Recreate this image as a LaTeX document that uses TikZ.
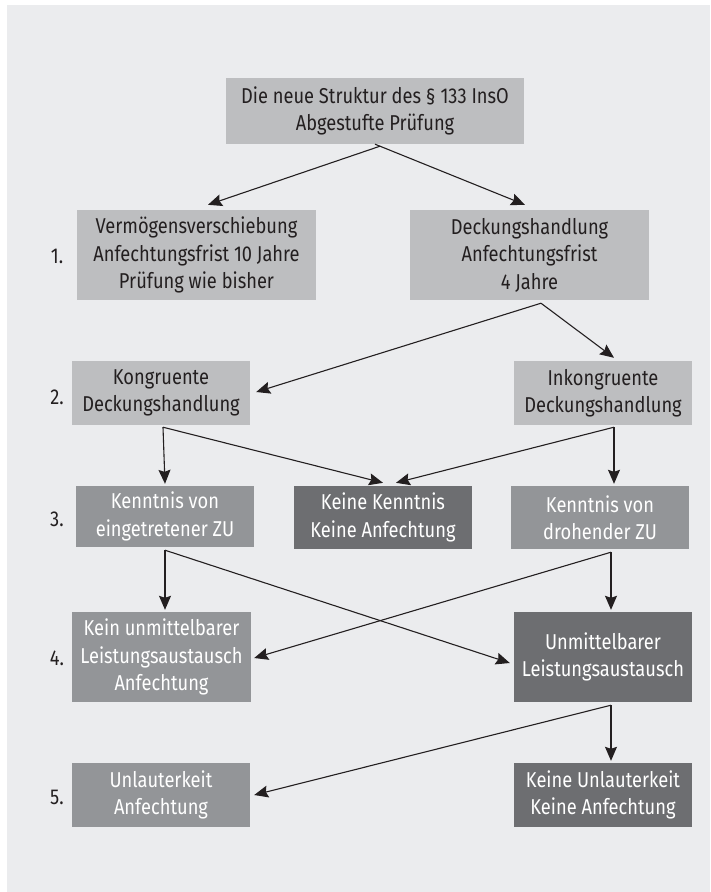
\documentclass[tikz,border=0pt]{standalone}
\usepackage{fontspec}
\setmainfont{Fira Sans}[FakeStretch=0.85]
\usetikzlibrary{arrows.meta,calc}
\definecolor{bgc}{HTML}{EBECEE}
\definecolor{lightc}{HTML}{BDBEC0}
\definecolor{medc}{HTML}{939598}
\definecolor{darkc}{HTML}{6D6E71}
\definecolor{txt}{HTML}{231F20}
\begin{document}
\begin{tikzpicture}[x=1pt,y=-1pt,
  box/.style={inner sep=0pt,align=center,font=\fontsize{21.5}{27.5}\selectfont},
  lbox/.style={box,fill=lightc,text=txt},
  mbox/.style={box,fill=medc,text=white},
  dbox/.style={box,fill=darkc,text=white},
  num/.style={text=txt,font=\fontsize{21.5}{27.5}\selectfont},
  arr/.style={draw=txt,line width=1.1pt,-{Stealth[length=14pt,width=12pt,inset=2pt]}},
  ln/.style={draw=txt,line width=1.1pt}]
\useasboundingbox (0,0) rectangle (710,892);
\fill[bgc] (7,5) rectangle (710,892);
% nodes
\node[lbox,minimum width=298pt,minimum height=66pt] (top) at (375,111) {Die neue Struktur des § 133 InsO\\Abgestufte Prüfung};
\node[lbox,minimum width=239pt,minimum height=90pt] (r1l) at (196.5,255) {Vermögensverschiebung\\Anfechtungsfrist 10 Jahre\\Prüfung wie bisher};
\node[lbox,minimum width=239pt,minimum height=90pt] (r1r) at (529.5,255) {Deckungshandlung\\Anfechtungsfrist\\4 Jahre};
\node[lbox,minimum width=178pt,minimum height=64pt] (r2l) at (161,393) {Kongruente\\Deckungshandlung};
\node[lbox,minimum width=178pt,minimum height=64pt] (r2r) at (603,393) {Inkongruente\\Deckungshandlung};
\node[mbox,minimum width=178pt,minimum height=61pt] (r3l) at (165,516.5) {Kenntnis von\\eingetretener ZU};
\node[dbox,minimum width=178pt,minimum height=63pt] (r3m) at (383,517.5) {Keine Kenntnis\\Keine Anfechtung};
\node[mbox,minimum width=178pt,minimum height=63pt] (r3r) at (600,517.5) {Kenntnis von\\drohender ZU};
\node[mbox,minimum width=179pt,minimum height=90pt] (r4l) at (161.5,657) {Kein unmittelbarer\\Leistungsaustausch\\Anfechtung};
\node[dbox,minimum width=178pt,minimum height=90pt] (r4r) at (603,657) {Unmittelbarer\\Leistungsaustausch};
\node[mbox,minimum width=178pt,minimum height=64pt] (r5l) at (161,795) {Unlauterkeit\\Anfechtung};
\node[dbox,minimum width=178pt,minimum height=64pt] (r5r) at (603,795) {Keine Unlauterkeit\\Keine Anfechtung};
% step numbers
\node[num] (n1) at (57,256) {1.};
\node[num] (n2) at (57,397) {2.};
\node[num] (n3) at (57,519) {3.};
\node[num] (n4) at (57,658) {4.};
\node[num] (n5) at (57,797) {5.};
% split points
\coordinate (ts) at ($(top.south)+(5,2)$);
\coordinate (s1) at ($(r1r.south)+(11.5,3)$);
\coordinate (s2l) at ($(r2l.south)+(2,2)$);
\coordinate (s2r) at ($(r2r.south)+(11,2)$);
\coordinate (s3l) at ($(r3l.south)+(0,3)$);
\coordinate (s3r) at ($(r3r.south)+(11,3)$);
\coordinate (s4r) at ($(r4r.south)+(8,3)$);
% connectors
\draw[ln] (top.south) -- (ts);
\draw[arr] (ts) -- ($(r1l.north)+(11.5,-5)$);
\draw[arr] (ts) -- ($(r1r.north)+(-4.5,-5)$);
\draw[arr] (s1) -- ($(r2l.east)+(6,-1)$);
\draw[arr] (s1) -- ($(r2r.north)+(11,-3)$);
\draw[arr] (s2l) -- ($(r3l.north)+(0,-2)$);
\draw[arr] (s2l) -- ($(r3m.north)+(0,-3)$);
\draw[arr] (s2r) -- ($(r3m.north)+(13,-3)$);
\draw[arr] (s2r) -- ($(r3r.north)+(14,-2)$);
\draw[arr] (s3l) -- ($(r4l.north)+(3.5,-2)$);
\draw[arr] (s3l) -- ($(r4r.west)+(-4,6)$);
\draw[arr] (s3r) -- ($(r4r.north)+(8,-2)$);
\draw[arr] (s3r) -- ($(r4l.east)+(3,1)$);
\draw[arr] (s4r) -- ($(r5r.north)+(8,-2)$);
\draw[arr] (s4r) -- ($(r5l.east)+(4,0)$);
\end{tikzpicture}
\end{document}
